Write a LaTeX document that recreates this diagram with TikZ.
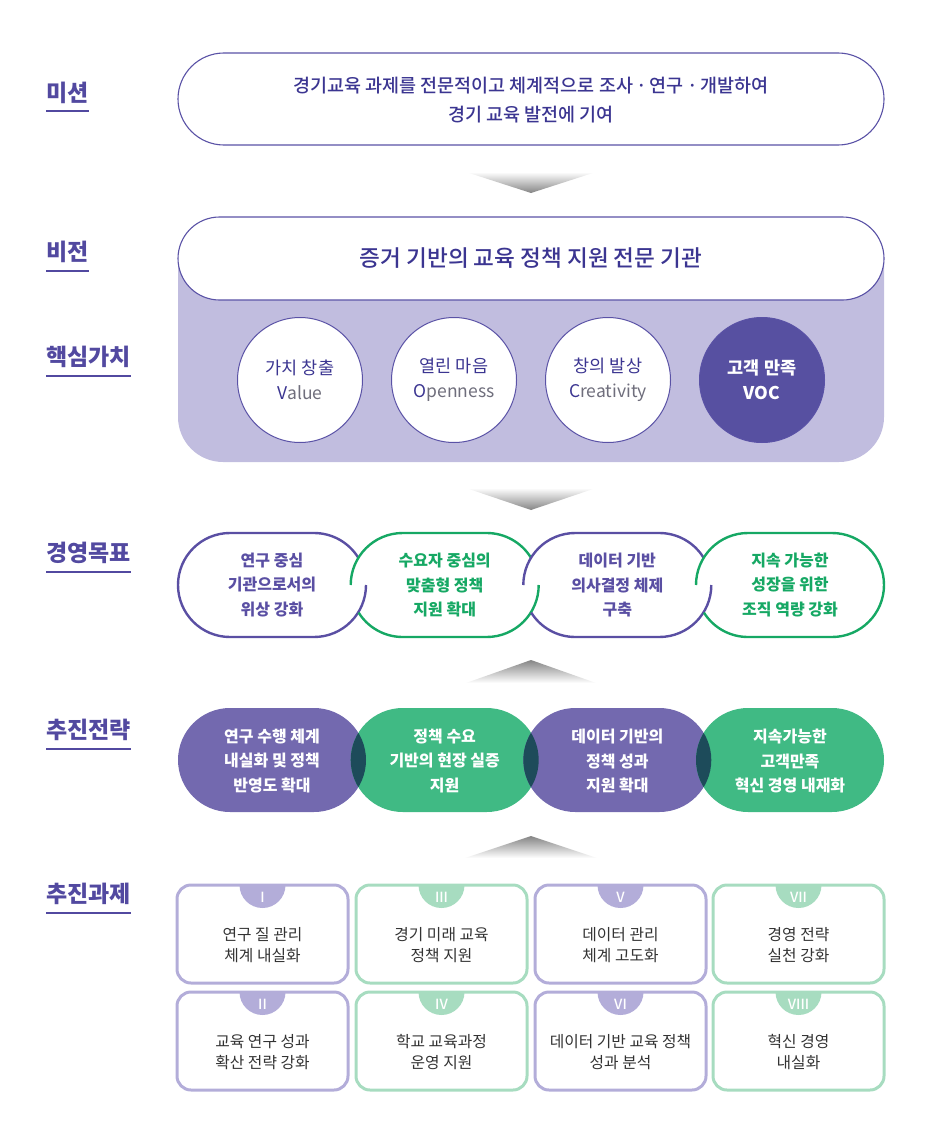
\documentclass[tikz,border=0pt]{standalone}
\usepackage{fontspec}
\setmainfont{Noto Sans CJK KR}
\newfontfamily\medfont{Noto Sans CJK KR Medium}
\newfontfamily\blackfont{Noto Sans CJK KR Black}
\usetikzlibrary{positioning}
\definecolor{labelC}{HTML}{5249A0}
\definecolor{inkC}{HTML}{3B3591}
\definecolor{lineC}{HTML}{5A52A6}
\definecolor{lavC}{HTML}{C1BDDF}
\definecolor{vocC}{HTML}{5750A1}
\definecolor{goalP}{HTML}{5A4FA3}
\definecolor{goalG}{HTML}{16A864}
\definecolor{stratP}{HTML}{7369AF}
\definecolor{stratG}{HTML}{40BA84}
\definecolor{stratD}{HTML}{1D4B5A}
\definecolor{taskP}{HTML}{B3ADD9}
\definecolor{taskG}{HTML}{A7DCC0}
\definecolor{taskT}{HTML}{333333}
\definecolor{engC}{HTML}{6F6E7C}
\tikzset{
	lbl/.style={anchor=west,inner sep=0,text=labelC,font=\fontsize{23}{24}\blackfont},
	ul/.style={labelC,line width=2pt},
	chevdown/.style={top color=white,bottom color=black!48},
	chevup/.style={top color=black!48,bottom color=white},
	valcircle/.style={circle,draw=lineC,line width=1pt,fill=white,minimum size=125,inner sep=0,align=center,text=inkC,font=\fontsize{17.5}{25}\selectfont},
	goalline/.style={line width=2.4pt},
	goaltext/.style={align=center,font=\fontsize{16}{24.5}\selectfont\bfseries},
	strattext/.style={align=center,text=white,font=\fontsize{16}{24.5}\selectfont\bfseries},
	taskbox/.style={rounded corners=14,line width=3pt,minimum width=171,minimum height=98,inner sep=0,outer sep=0},
	tasktext/.style={align=center,text=taskT,font=\fontsize{15.8}{21}\selectfont},
	romantext/.style={text=white,font=\fontsize{14}{14}\medfont}
}
\begin{document}
\begin{tikzpicture}[x=1pt,y=1pt]
	\useasboundingbox (0,0) rectangle (931,-1137);
	% left labels
	\node[lbl] (lab1) at (46,-93) {미션};
	\node[lbl] (lab2) at (46,-252) {비전};
	\node[lbl] (lab3) at (46,-357) {핵심가치};
	\node[lbl] (lab4) at (46,-553) {경영목표};
	\node[lbl] (lab5) at (46,-730) {추진전략};
	\node[lbl] (lab6) at (46,-894) {추진과제};
	\foreach \n in {lab1,lab2,lab3,lab4,lab5,lab6}
		\draw[ul] ([yshift=-18.5pt]\n.west) -- ([yshift=-18.5pt]\n.east);
	% mission
	\draw[lineC,line width=1.1pt,fill=white,rounded corners=46] (178,-53) rectangle (884,-145);
	\node[align=center,text=inkC,font=\fontsize{18.5}{29}\medfont] (mis) at (531,-100.5) {경기교육 과제를 전문적이고 체계적으로 조사\,·\,연구\,·\,개발하여\\경기 교육 발전에 기여};
	\shade[chevdown] (466,-172) -- (596,-172) -- (531,-193) -- cycle;
	% vision and values
	\fill[lavC] (178,-258) -- (178,-417) arc[start angle=180,end angle=270,radius=45] -- (839,-462) arc[start angle=270,end angle=360,radius=45] -- (884,-258) -- cycle;
	\draw[lineC,line width=1.1pt,fill=white,rounded corners=41.5] (178,-217) rectangle (884,-300);
	\node[text=inkC,font=\fontsize{22.6}{23}\medfont] (vis) at (531,-258) {증거 기반의 교육 정책 지원 전문 기관};
	\node[valcircle] (v1) at (300,-380) {가치 창출\\V\textcolor{engC}{alue}};
	\node[valcircle] (v2) at (454,-380) {열린 마음\\O\textcolor{engC}{penness}};
	\node[valcircle] (v3) at (608,-380) {창의 발상\\C\textcolor{engC}{reativity}};
	\node[valcircle,fill=vocC,text=white] (v4) at (762,-380) {\bfseries 고객 만족\\\bfseries VOC};
	\shade[chevdown] (466,-488) -- (596,-488) -- (531,-510) -- cycle;
	% goals
	\draw[goalline,goalP] (314,-585) ++(32:52) arc[start angle=32,end angle=90,radius=52] -- (230,-533) arc[start angle=90,end angle=270,radius=52] -- (314,-637) arc[start angle=-90,end angle=0,radius=52];
	\draw[goalline,goalG] (402.7,-585) ++(180:52) arc[start angle=180,end angle=90,radius=52] -- (486.7,-533) arc[start angle=90,end angle=32,radius=52];
	\draw[goalline,goalG] (402.7,-585) ++(212:52) arc[start angle=212,end angle=270,radius=52] -- (486.7,-637) arc[start angle=-90,end angle=0,radius=52];
	\draw[goalline,goalP] (575.3,-585) ++(180:52) arc[start angle=180,end angle=90,radius=52] -- (659.3,-533) arc[start angle=90,end angle=32,radius=52];
	\draw[goalline,goalP] (575.3,-585) ++(212:52) arc[start angle=212,end angle=270,radius=52] -- (659.3,-637) arc[start angle=-90,end angle=0,radius=52];
	\draw[goalline,goalG] (748,-585) ++(180:52) arc[start angle=180,end angle=90,radius=52] -- (832,-533) arc[start angle=90,end angle=-90,radius=52] -- (748,-637) arc[start angle=270,end angle=212,radius=52];
	\node[goaltext,text=goalP] (g1) at (272,-585) {연구 중심\\기관으로서의\\위상 강화};
	\node[goaltext,text=goalG] (g2) at (444.7,-585) {수요자 중심의\\맞춤형 정책\\지원 확대};
	\node[goaltext,text=goalP] (g3) at (617.3,-585) {데이터 기반\\의사결정 체제\\구축};
	\node[goaltext,text=goalG] (g4) at (790,-585) {지속 가능한\\성장을 위한\\조직 역량 강화};
	\shade[chevup] (531,-660) -- (596,-683) -- (466,-683) -- cycle;
	% strategies
	\fill[stratP,rounded corners=52] (178,-708) rectangle (366,-812);
	\fill[stratG,rounded corners=52] (350.7,-708) rectangle (538.7,-812);
	\fill[stratP,rounded corners=52] (523.3,-708) rectangle (711.3,-812);
	\fill[stratG,rounded corners=52] (696,-708) rectangle (884,-812);
	\begin{scope}
		\clip[rounded corners=52] (178,-708) rectangle (366,-812);
		\fill[stratD,rounded corners=52] (350.7,-708) rectangle (538.7,-812);
	\end{scope}
	\begin{scope}
		\clip[rounded corners=52] (350.7,-708) rectangle (538.7,-812);
		\fill[stratD,rounded corners=52] (523.3,-708) rectangle (711.3,-812);
	\end{scope}
	\begin{scope}
		\clip[rounded corners=52] (523.3,-708) rectangle (711.3,-812);
		\fill[stratD,rounded corners=52] (696,-708) rectangle (884,-812);
	\end{scope}
	\node[strattext] (s1) at (272,-761) {연구 수행 체계\\내실화 및 정책\\반영도 확대};
	\node[strattext] (s2) at (444.7,-761) {정책 수요\\기반의 현장 실증\\지원};
	\node[strattext] (s3) at (617.3,-761) {데이터 기반의\\정책 성과\\지원 확대};
	\node[strattext] (s4) at (790,-761) {지속가능한\\고객만족\\혁신 경영 내재화};
	\shade[chevup] (531,-836) -- (597,-858) -- (465,-858) -- cycle;
	% tasks
	\foreach \x/\y/\c/\r/\t [count=\i] in {
		262.5/934/taskP/I/{연구 질 관리\\체계 내실화},
		262.5/1041/taskP/II/{교육 연구 성과\\확산 전략 강화},
		441.5/934/taskG/III/{경기 미래 교육\\정책 지원},
		441.5/1041/taskG/IV/{학교 교육과정\\운영 지원},
		620.5/934/taskP/V/{데이터 관리\\체계 고도화},
		620.5/1041/taskP/VI/{데이터 기반 교육 정책\\성과 분석},
		798.5/934/taskG/VII/{경영 전략\\실천 강화},
		798.5/1041/taskG/VIII/{혁신 경영\\내실화}}{
		\node[taskbox,draw=\c] (t\i) at (\x,-\y) {};
		\fill[\c] ([xshift=-23pt]t\i.north) arc[start angle=180,end angle=360,radius=23] -- cycle;
		\node[romantext] (r\i) at ([yshift=-12.5pt]t\i.north) {\r};
		\node[tasktext] (x\i) at ([yshift=-11pt]t\i.center) {\t};
	}
\end{tikzpicture}
\end{document}
